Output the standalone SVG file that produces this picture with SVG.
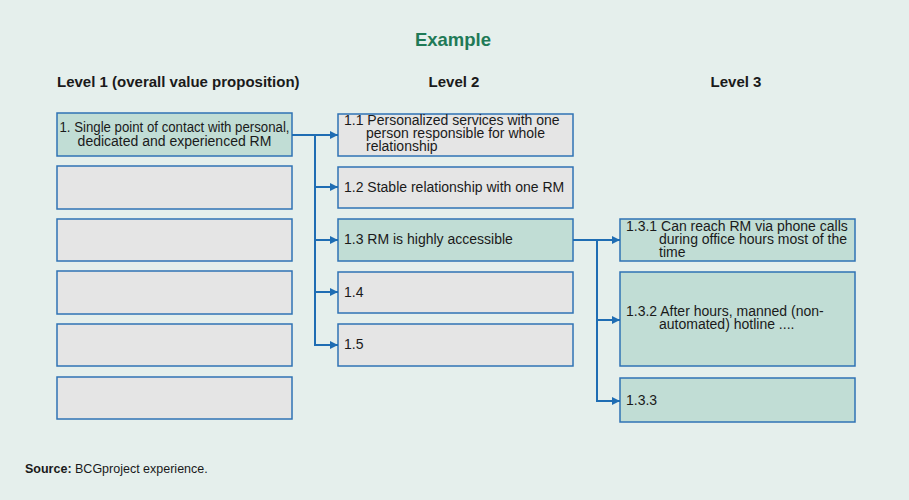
<svg xmlns="http://www.w3.org/2000/svg" width="909" height="500" viewBox="0 0 909 500">
  <defs>
    <style>
      .bg { fill: #e5efec; }
      .box { stroke: #2f73b4; stroke-width: 1.5; }
      .gray { fill: #e5e5e5; }
      .teal { fill: #c1ddd5; }
      .t { font-family: "Liberation Sans", Arial, sans-serif; font-size: 14px; fill: #1a1a1a; }
      .h { font-family: "Liberation Sans", Arial, sans-serif; font-size: 15px; font-weight: bold; fill: #1a1a1a; }
      .title { font-family: "Liberation Sans", Arial, sans-serif; font-size: 18.5px; font-weight: bold; fill: #1f7a57; }
      .src { font-family: "Liberation Sans", Arial, sans-serif; font-size: 12.5px; fill: #1a1a1a; }
      .conn { fill: none; stroke: #1f6db3; stroke-width: 2; }
    </style>
    <marker id="arrow" markerWidth="8" markerHeight="8" refX="8" refY="4" orient="auto" markerUnits="userSpaceOnUse">
      <path d="M0,0 L8,4 L0,8 Z" fill="#1f6db3"/>
    </marker>
  </defs>

  <rect class="bg" x="0" y="0" width="909" height="500"/>

  <!-- headings -->
  <text class="title" x="453" y="46" text-anchor="middle">Example</text>
  <text class="h" x="57" y="87">Level 1 (overall value proposition)</text>
  <text class="h" x="454" y="87" text-anchor="middle">Level 2</text>
  <text class="h" x="736" y="87" text-anchor="middle">Level 3</text>

  <!-- Level 1 -->
  <g id="l1-1">
    <rect class="box teal" x="57" y="113" width="235" height="43"/>
    <text class="t" x="174.5" y="132" text-anchor="middle" textLength="230" lengthAdjust="spacingAndGlyphs">1. Single point of contact with personal,</text>
    <text class="t" x="174.5" y="146" text-anchor="middle">dedicated and experienced RM</text>
  </g>
  <g id="l1-2"><rect class="box gray" x="57" y="166" width="235" height="43"/></g>
  <g id="l1-3"><rect class="box gray" x="57" y="219" width="235" height="42"/></g>
  <g id="l1-4"><rect class="box gray" x="57" y="271" width="235" height="43"/></g>
  <g id="l1-5"><rect class="box gray" x="57" y="324" width="235" height="42"/></g>
  <g id="l1-6"><rect class="box gray" x="57" y="377" width="235" height="42"/></g>

  <!-- Level 2 -->
  <g id="l2-1">
    <rect class="box gray" x="338" y="114" width="235" height="42"/>
    <text class="t" x="344" y="125">1.1 Personalized services with one</text>
    <text class="t" x="366" y="138">person responsible for whole</text>
    <text class="t" x="366" y="151">relationship</text>
  </g>
  <g id="l2-2">
    <rect class="box gray" x="338" y="167" width="235" height="41"/>
    <text class="t" x="344" y="192">1.2 Stable relationship with one RM</text>
  </g>
  <g id="l2-3">
    <rect class="box teal" x="338" y="219" width="235" height="42"/>
    <text class="t" x="344" y="244">1.3 RM is highly accessible</text>
  </g>
  <g id="l2-4">
    <rect class="box gray" x="338" y="272" width="235" height="41"/>
    <text class="t" x="344" y="297">1.4</text>
  </g>
  <g id="l2-5">
    <rect class="box gray" x="338" y="324" width="235" height="42"/>
    <text class="t" x="344" y="349">1.5</text>
  </g>

  <!-- Level 3 -->
  <g id="l3-1">
    <rect class="box teal" x="620" y="219" width="235" height="42"/>
    <text class="t" x="626" y="231">1.3.1 Can reach RM via phone calls</text>
    <text class="t" x="659" y="244">during office hours most of the</text>
    <text class="t" x="659" y="257">time</text>
  </g>
  <g id="l3-2">
    <rect class="box teal" x="620" y="272" width="235" height="94"/>
    <text class="t" x="626" y="316">1.3.2 After hours, manned (non-</text>
    <text class="t" x="659" y="329">automated) hotline ....</text>
  </g>
  <g id="l3-3">
    <rect class="box teal" x="620" y="378" width="235" height="44"/>
    <text class="t" x="626" y="405">1.3.3</text>
  </g>

  <!-- connectors -->
  <g id="connectors">
    <path class="conn" d="M292,135 H315 V345"/>
    <path class="conn" d="M315,135 H338" marker-end="url(#arrow)"/>
    <path class="conn" d="M315,187 H338" marker-end="url(#arrow)"/>
    <path class="conn" d="M315,240 H338" marker-end="url(#arrow)"/>
    <path class="conn" d="M315,292 H338" marker-end="url(#arrow)"/>
    <path class="conn" d="M314,345 H338" marker-end="url(#arrow)"/>
    <path class="conn" d="M573,240 H597 V401"/>
    <path class="conn" d="M597,240 H620" marker-end="url(#arrow)"/>
    <path class="conn" d="M597,320 H620" marker-end="url(#arrow)"/>
    <path class="conn" d="M596,401 H620" marker-end="url(#arrow)"/>
  </g>

  <!-- footnote -->
  <text class="src" x="25" y="473"><tspan font-weight="bold">Source:</tspan> BCGproject experience.</text>
</svg>
